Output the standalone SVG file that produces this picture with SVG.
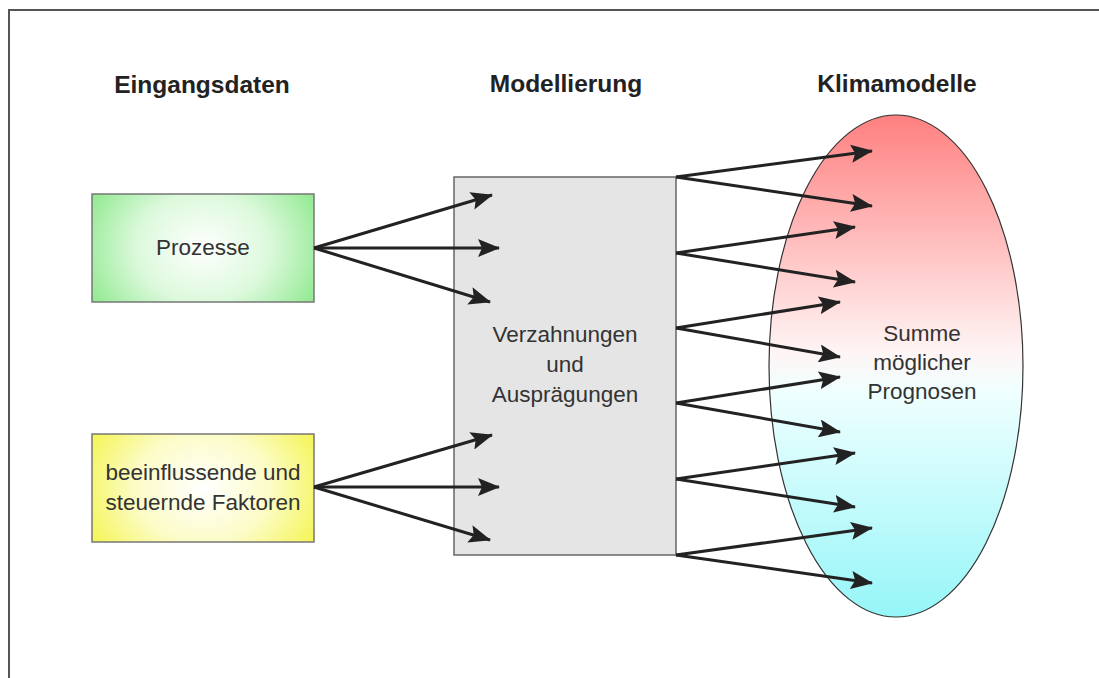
<svg xmlns="http://www.w3.org/2000/svg" width="1099" height="678" viewBox="0 0 1099 678">
<style>
.title{font-family:"Liberation Sans",Arial,sans-serif;font-weight:bold;font-size:24.5px;fill:#222;text-anchor:middle}
.lbl{font-family:"Liberation Sans",Arial,sans-serif;font-size:22.5px;fill:#333;text-anchor:middle}
.box{stroke:#777;stroke-width:1.5}
.con line{stroke:#222;stroke-width:3;marker-end:url(#ah)}
</style>
<defs>
<marker id="ah" viewBox="0 0 22 18" refX="21" refY="9" markerWidth="22" markerHeight="18" markerUnits="userSpaceOnUse" orient="auto">
<path d="M0,0 L22,9 L0,18 L4,9 z" fill="#222"/>
</marker>
<radialGradient id="gGreen" cx="0.5" cy="0.5" r="0.6" gradientTransform="translate(0.5 0.5) scale(1 1.7) translate(-0.5 -0.5)">
<stop offset="0" stop-color="#ffffff"/>
<stop offset="0.5" stop-color="#dcf9dc"/>
<stop offset="1" stop-color="#8ae88a"/>
</radialGradient>
<radialGradient id="gYellow" cx="0.5" cy="0.5" r="0.6" gradientTransform="translate(0.5 0.5) scale(1 1.7) translate(-0.5 -0.5)">
<stop offset="0" stop-color="#ffffff"/>
<stop offset="0.5" stop-color="#fcfcc8"/>
<stop offset="1" stop-color="#f4f44c"/>
</radialGradient>
<linearGradient id="gEll" x1="0" y1="0" x2="0" y2="1">
<stop offset="0" stop-color="#ff8080"/>
<stop offset="0.47" stop-color="#fff4f4"/>
<stop offset="0.55" stop-color="#f0ffff"/>
<stop offset="1" stop-color="#96f6f8"/>
</linearGradient>
</defs>
<rect width="1099" height="678" fill="#fff"/>
<path d="M9,678 V10 H1099" fill="none" stroke="#555" stroke-width="2"/>

<text class="title" x="202" y="93">Eingangsdaten</text>
<text class="title" x="566" y="92">Modellierung</text>
<text class="title" x="897" y="92">Klimamodelle</text>

<g id="prozesse">
<rect class="box" x="92" y="194" width="222" height="108" fill="url(#gGreen)"/>
<text class="lbl" x="203" y="255">Prozesse</text>
</g>
<g id="faktoren">
<rect class="box" x="92" y="434" width="222" height="108" fill="url(#gYellow)"/>
<text class="lbl" x="203" y="480">beeinflussende und</text>
<text class="lbl" x="203" y="510">steuernde Faktoren</text>
</g>
<g id="modellierung">
<rect x="454" y="177" width="222" height="378" fill="#e5e5e5" stroke="#666" stroke-width="1.5"/>
<text class="lbl" x="565" y="342">Verzahnungen</text>
<text class="lbl" x="565" y="372">und</text>
<text class="lbl" x="565" y="402">Ausprägungen</text>
</g>
<g id="klimamodelle">
<ellipse cx="896" cy="366" rx="127" ry="251" fill="url(#gEll)" stroke="#333" stroke-width="1.2"/>
<text class="lbl" x="922" y="341">Summe</text>
<text class="lbl" x="922" y="370">möglicher</text>
<text class="lbl" x="922" y="399">Prognosen</text>
</g>

<g id="connectors" class="con">
<line x1="314" y1="248" x2="492" y2="195"/>
<line x1="314" y1="248" x2="499" y2="248"/>
<line x1="314" y1="248" x2="490" y2="302"/>
<line x1="314" y1="487" x2="492" y2="435"/>
<line x1="314" y1="487" x2="499" y2="487"/>
<line x1="314" y1="487" x2="490" y2="540"/>
<line x1="676" y1="177" x2="872" y2="151"/>
<line x1="676" y1="177" x2="872" y2="206"/>
<line x1="676" y1="253" x2="855" y2="227"/>
<line x1="676" y1="253" x2="855" y2="282"/>
<line x1="676" y1="328" x2="840" y2="302"/>
<line x1="676" y1="328" x2="840" y2="357"/>
<line x1="676" y1="403" x2="840" y2="377"/>
<line x1="676" y1="403" x2="840" y2="432"/>
<line x1="676" y1="479" x2="855" y2="453"/>
<line x1="676" y1="479" x2="855" y2="507"/>
<line x1="676" y1="555" x2="872" y2="528"/>
<line x1="676" y1="555" x2="872" y2="583"/>
</g>
</svg>
